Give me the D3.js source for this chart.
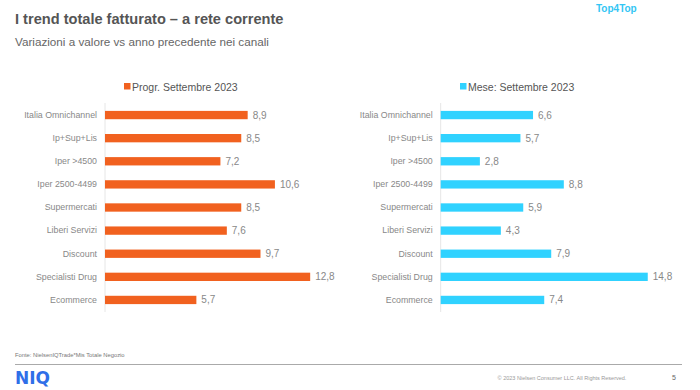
<!DOCTYPE html>
<html><head><meta charset="utf-8">
<script src="https://cdn.jsdelivr.net/npm/d3@7"></script>
<style>body{margin:0;background:#fff;font-family:"Liberation Sans",Arial,sans-serif;}</style>
</head><body><svg id="c" width="700" height="390"></svg>
<script>
const categories = ["Italia Omnichannel","Ip+Sup+Lis","Iper >4500","Iper 2500-4499","Supermercati","Liberi Servizi","Discount","Specialisti Drug","Ecommerce"];
const progrValues = [8.9,8.5,7.2,10.6,8.5,7.6,9.7,12.8,5.7];
const meseValues = [6.6,5.7,2.8,8.8,5.9,4.3,7.9,14.8,7.4];
const seriesNames = ["Progr. Settembre 2023","Mese: Settembre 2023"];
const seriesColors = ["#F1611F","#30D2FF"];

const svg = d3.select("#c");
const fmt = v => d3.format(".1f")(v).replace(".", ",");

svg.append("text").attr("x",15).attr("y",24).attr("font-size",14.6).attr("font-weight","bold").attr("fill","#555").text("I trend totale fatturato – a rete corrente");
svg.append("text").attr("x",15).attr("y",46).attr("font-size",11.7).attr("fill","#666").text("Variazioni a valore vs anno precedente nei canali");
svg.append("text").attr("x",596).attr("y",12).attr("font-size",10).attr("font-weight","bold").attr("fill","#33C6F4").text("Top4Top");

function panel(x0, pxPerUnit, values, name, color, legendX) {
  const y = d3.scaleBand().domain(categories).range([103.5, 311.5]).paddingInner(0.64).paddingOuter(0.32);
  const x = d3.scaleLinear().domain([0, 1]).range([x0, x0 + pxPerUnit]);
  const g = svg.append("g");
  g.append("line").attr("x1",x0).attr("x2",x0).attr("y1",103).attr("y2",312).attr("stroke","#e6e6e6").attr("stroke-width",1);
  const axis = d3.axisLeft(y).tickSize(0).tickPadding(8);
  const ag = g.append("g").attr("transform",`translate(${x0},0)`).call(axis);
  ag.select(".domain").remove();
  ag.selectAll("text").attr("font-size",8.8).attr("fill","#888").attr("font-family","'Liberation Sans',Arial,sans-serif");
  g.selectAll("rect.bar").data(values).enter().append("rect").attr("class","bar")
    .attr("x",x(0)).attr("y",(d,i)=>y(categories[i])).attr("height",y.bandwidth())
    .attr("width",d=>x(d)-x(0)).attr("fill",color);
  g.selectAll("text.val").data(values).enter().append("text").attr("class","val")
    .attr("x",d=>x(d)+5).attr("y",(d,i)=>y(categories[i])+y.bandwidth()/2).attr("dy","0.35em")
    .attr("font-size",10).attr("fill","#888").text(d=>fmt(d));
  g.append("rect").attr("x",legendX).attr("y",83).attr("width",6.5).attr("height",6.5).attr("fill",color);
  g.append("text").attr("x",legendX+8).attr("y",90.5).attr("font-size",10.5).attr("fill","#555").text(name);
}
panel(105, 16.03, progrValues, seriesNames[0], seriesColors[0], 124);
panel(440.7, 13.99, meseValues, seriesNames[1], seriesColors[1], 460);

svg.append("text").attr("x",15).attr("y",357).attr("font-size",5.8).attr("fill","#777").text("Fonte: NielsenIQTrade*Mis Totale Negozio");
svg.append("line").attr("x1",15).attr("x2",682).attr("y1",364.5).attr("y2",364.5).attr("stroke","#aaa").attr("stroke-width",1);
svg.append("text").attr("x",15).attr("y",384).attr("font-size",17).attr("font-weight","900").attr("fill","#2F6FE8").attr("font-family","'DejaVu Sans',sans-serif").text("NIQ");
svg.append("text").attr("x",562).attr("y",380).attr("text-anchor","middle").attr("font-size",5.5).attr("fill","#999").text("© 2023 Nielsen Consumer LLC. All Rights Reserved.");
svg.append("text").attr("x",674).attr("y",380).attr("text-anchor","middle").attr("font-size",7).attr("fill","#666").text("5");
</script></body></html>
